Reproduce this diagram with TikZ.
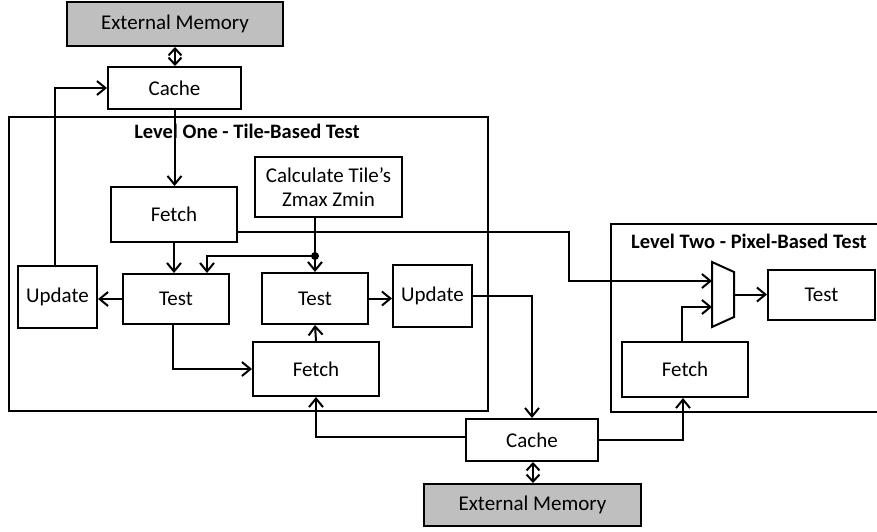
\documentclass[tikz,border=0pt]{standalone}
\usepackage{fontspec}
\setmainfont{Carlito}
\usetikzlibrary{arrows.meta}
\definecolor{memgray}{RGB}{191,191,191}
\tikzset{
  blk/.style={draw, line width=2pt, fill=white, inner sep=0pt, align=center,
              font=\fontsize{21}{24}\selectfont},
  mem/.style={blk, fill=memgray},
  region/.style={draw, line width=2pt},
  title/.style={font=\fontsize{20.5}{24}\selectfont\bfseries, inner sep=0pt},
  wire/.style={line width=2pt},
  tip/.style={Straight Barb[length=8.5pt,width=14pt,line width=2pt]},
  flow/.style={wire, -{Straight Barb[length=8.5pt,width=14pt,line width=2pt]}},
  both/.style={wire, {Straight Barb[length=7pt,width=13pt,line width=2pt]}-{Straight Barb[length=7pt,width=13pt,line width=2pt]}},
}
\begin{document}
\begin{tikzpicture}[x=1pt,y=-1pt]
\useasboundingbox (0,0) rectangle (877,531);

% level frames
\draw[region] (9,117) rectangle (488,411);
\node[title] (t1) at (247,131) {Level One - Tile-Based Test};
\draw[region] (611,224) rectangle (900,412);
\node[title] (t2) at (749,241) {Level Two - Pixel-Based Test};

% memory and caches
\node[mem] (extTop) at (175,24) [minimum width=216pt, minimum height=44pt] {External Memory};
\node[blk] (cacheTop) at (174.5,88) [minimum width=133pt, minimum height=42pt] {Cache};
\node[blk] (cacheBot) at (532,440) [minimum width=132pt, minimum height=42pt] {Cache};
\node[mem] (extBot) at (532.5,505) [minimum width=217pt, minimum height=42pt] {External Memory};

% level one blocks
\node[blk] (fetch1) at (174,214.5) [minimum width=126pt, minimum height=55pt] {Fetch};
\node[blk] (calc) at (328.5,187) [minimum width=147pt, minimum height=60pt] {Calculate Tile’s\\Zmax Zmin};
\node[blk] (upd1) at (57.5,297) [minimum width=79pt, minimum height=62pt] {Update};
\node[blk] (test1) at (176,299) [minimum width=106pt, minimum height=50pt] {Test};
\node[blk] (test2) at (315,298.5) [minimum width=106pt, minimum height=51pt] {Test};
\node[blk] (upd2) at (432.5,296) [minimum width=79pt, minimum height=62pt] {Update};
\node[blk] (fetch2) at (316,369) [minimum width=126pt, minimum height=54pt] {Fetch};

% level two blocks
\node[blk] (test3) at (821.5,295) [minimum width=107pt, minimum height=50pt] {Test};
\node[blk] (fetch3) at (685,369.5) [minimum width=126pt, minimum height=55pt] {Fetch};

% multiplexer
\draw[wire, fill=white] (712,262) -- (734,272) -- (734,317) -- (712,327) -- cycle;
\coordinate (muxIn1) at (712,281);
\coordinate (muxIn2) at (712,307);
\coordinate (muxOut) at (734,294.5);
\coordinate (bendA) at (569,232);
\coordinate (bendB) at (569,281);
\coordinate (junc) at (315,256);

% connectors
\draw[both] (extTop.south) -- (extTop.south |- cacheTop.north);
\draw[flow] ([xshift=-3pt]upd1.north) |- (cacheTop.west);
\draw[flow] (cacheTop.south) -- (cacheTop.south |- fetch1.north);
\draw[flow] (fetch1.south) -- (fetch1.south |- test1.north);
\draw[flow] (test2.north |- calc.south) -- (test2.north);
\draw[flow] (junc) -| ([xshift=31pt]test1.north);
\fill (junc) circle (4pt);
\draw[flow] (test1.west) -- (upd1.east |- test1.west);
\draw[flow] (test2.east) -- (upd2.west |- test2.east);
\draw[flow] (fetch2.north) -- (test2.south);
\draw[flow] ([xshift=-3pt]test1.south) |- (fetch2.west);
\draw[flow] ([yshift=-17.5pt]fetch1.east) -- (bendA) -- (bendB) -- (muxIn1);
\draw[flow] ([xshift=-3pt]fetch3.north) |- (muxIn2);
\draw[flow] (muxOut) -- (test3.west |- muxOut);
\draw[flow] (upd2.east) -| (cacheBot.north);
\draw[flow] ([yshift=3pt]cacheBot.west) -| (fetch2.south);
\draw[flow] (cacheBot.east) -| ([xshift=-2pt]fetch3.south);
\draw[both] ([xshift=1pt]cacheBot.south) -- ([xshift=1pt]cacheBot.south |- extBot.north);
\end{tikzpicture}
\end{document}
